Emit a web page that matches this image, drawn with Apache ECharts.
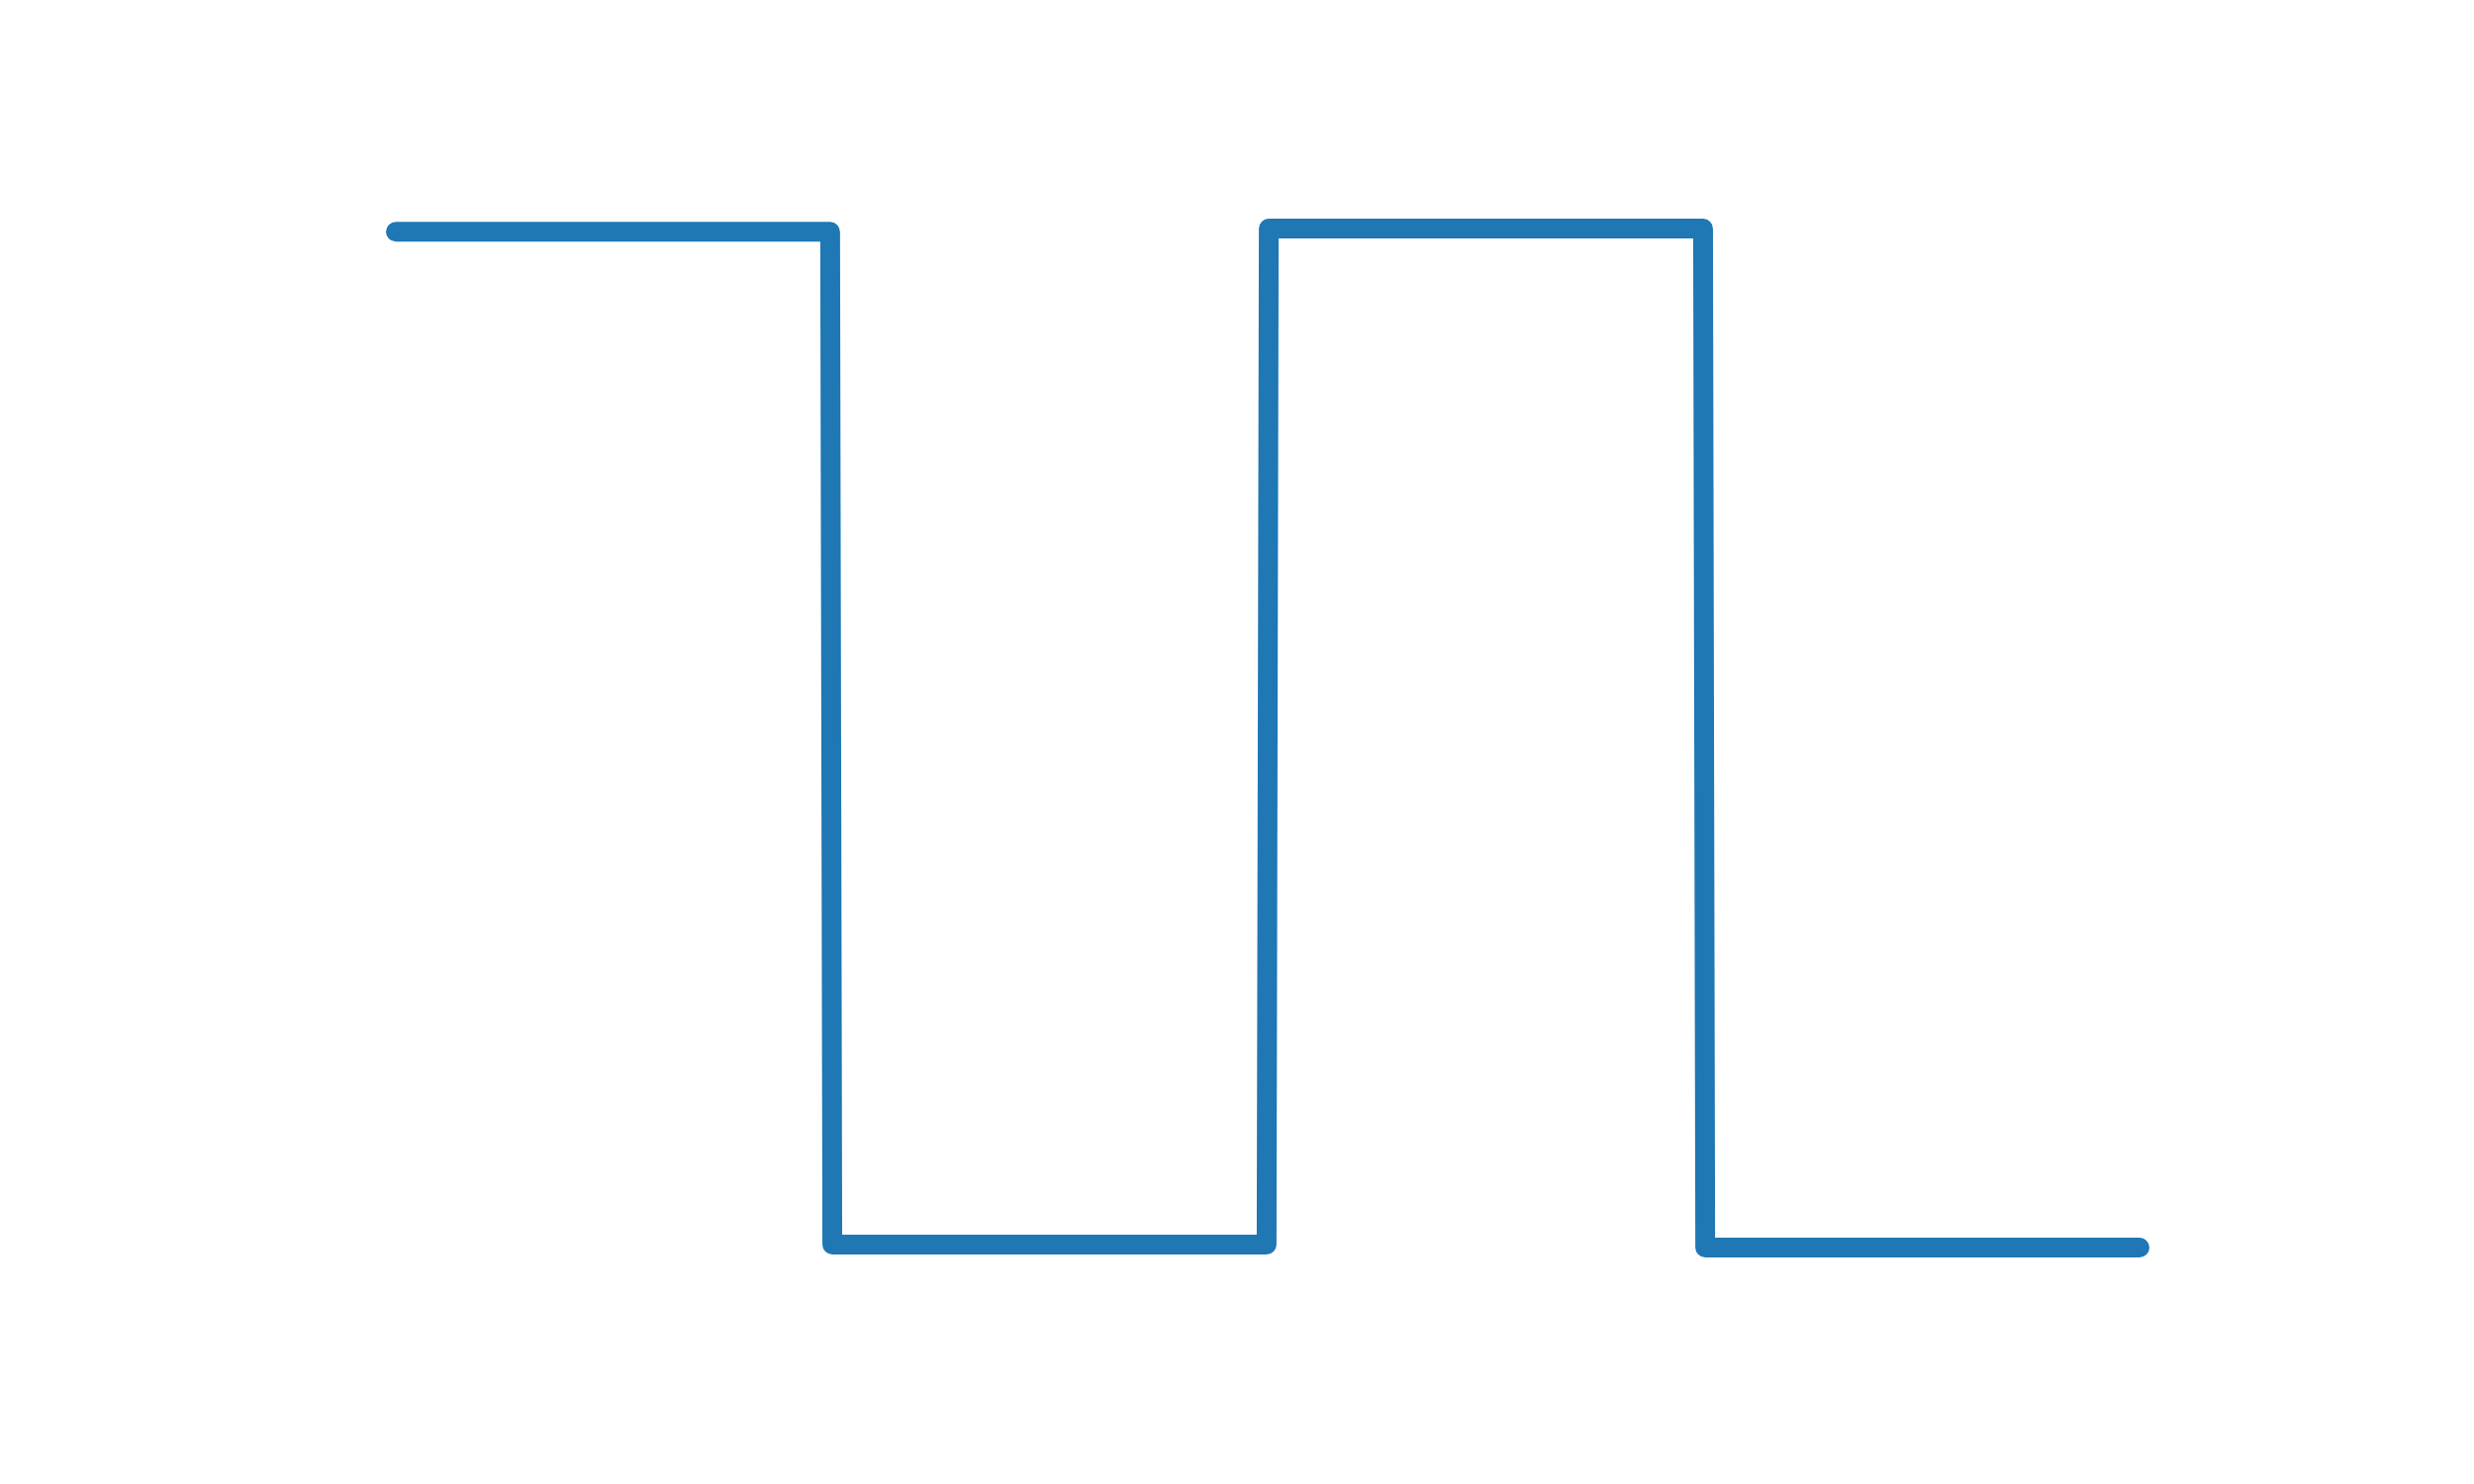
<!DOCTYPE html>
<html>
<head>
<meta charset="utf-8">
<script src="https://cdn.jsdelivr.net/npm/echarts@6/dist/echarts.min.js"></script>
<style>
html,body{margin:0;padding:0;background:#ffffff;}
#chart{width:2500px;height:1500px;}
</style>
</head>
<body>
<div id="chart"></div>
<script>
const xValues = [0, 1, 1.005, 2.005, 2.01, 3.01, 3.015, 4.015];
const yValues = [1.0, 1.0, -1.0, -1.0, 1.0064, 1.0064, -1.0058, -1.0058];

const points = xValues.map((x, i) => [x, yValues[i]]);
const chart = echarts.init(document.getElementById('chart'));
chart.setOption({
  backgroundColor: '#ffffff',
  animation: false,
  grid: { left: 400, right: 338, top: 231, bottom: 239 },
  xAxis: { type: 'value', show: false, min: 0, max: 4.015 },
  yAxis: { type: 'value', show: false, min: -1.0058, max: 1.0064 },
  series: [{
    type: 'line',
    data: points,
    showSymbol: false,
    lineStyle: { color: '#1f77b4', width: 20, cap: 'round', join: 'round' }
  }]
});
</script>
</body>
</html>
